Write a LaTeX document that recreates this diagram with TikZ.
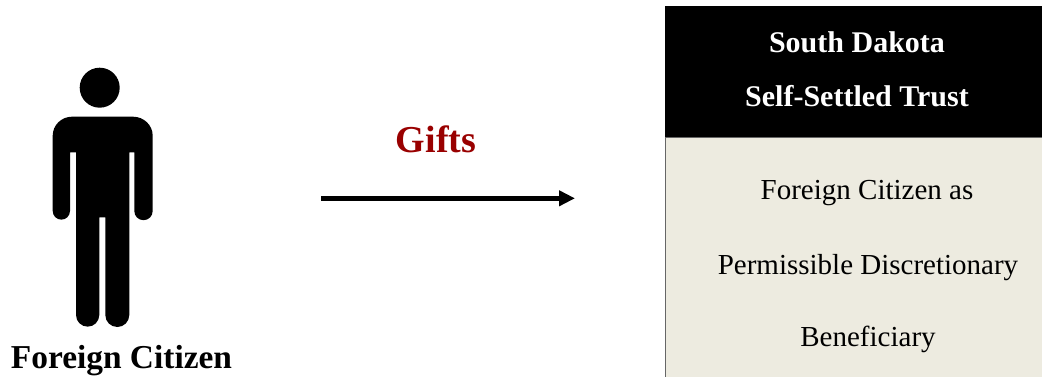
\documentclass[tikz,border=0pt]{standalone}
\usepackage{fontspec}
\setmainfont{Liberation Serif}
\usetikzlibrary{arrows.meta}
\definecolor{trustbeige}{HTML}{EDEBE0}
\definecolor{giftred}{HTML}{990000}
\tikzset{
  labeltext/.style={anchor=base,inner sep=0pt,font=\fontsize{29}{29}\selectfont},
  headtext/.style={labeltext,text=white,font=\fontsize{30}{30}\selectfont\bfseries},
  boldtext/.style={labeltext,font=\fontsize{33.4}{33.4}\selectfont\bfseries},
  panel/.style={anchor=north west,inner sep=0pt,outer sep=0pt,minimum width=377pt}
}
\begin{document}
\begin{tikzpicture}[x=1pt,y=1pt]
  \useasboundingbox (0,0) rectangle (1042,-377);

  % person
  \fill[black] (99.7,-87.7) circle (20);
  \fill[black] (72,-116.7) -- (133,-116.7) arc (90:0:19.7 and 19)
    -- (152.7,-211) arc (0:-180:9.2)
    -- (134.3,-152.3) -- (129.3,-152.3)
    -- (129.3,-315) arc (0:-180:12)
    -- (105.3,-217.3) -- (99.3,-217.3)
    -- (99.3,-315) arc (0:-180:11.65)
    -- (76,-152.3) -- (70,-152.3)
    -- (70,-211) arc (0:-180:8.65)
    -- (52.7,-135.7) arc (180:90:19.3 and 19) -- cycle;
  \node[boldtext] (citizen) at (121.5,-368) {Foreign Citizen};

  % gift arrow
  \coordinate (giftstart) at (321,-198.3);
  \coordinate (giftend) at (575,-198.3);
  \draw[black,line width=4.5pt,-{Triangle[length=16pt,width=15pt]}] (giftstart) -- (giftend);
  \node[boldtext,text=giftred,font=\fontsize{38}{38}\selectfont\bfseries] (gifts) at (436,-152.5) {Gifts};

  % trust box
  \node[panel,fill=black,minimum height=132pt] (trusthead) at (665,-6) {};
  \node[panel,fill=trustbeige,minimum height=239pt] (trustbody) at (trusthead.south west) {};
  \draw[black!60,line width=1pt] (trustbody.north east) -- (trustbody.north west) -- (trustbody.south west);

  \node[headtext] (south) at (857,-52.5) {South Dakota};
  \node[headtext] (settled) at (857,-107) {Self-Settled Trust};
  \node[labeltext] (foreign) at (867,-200) {Foreign Citizen as};
  \node[labeltext] (permissible) at (868,-274) {Permissible Discretionary};
  \node[labeltext] (beneficiary) at (868,-346) {Beneficiary};
\end{tikzpicture}
\end{document}
